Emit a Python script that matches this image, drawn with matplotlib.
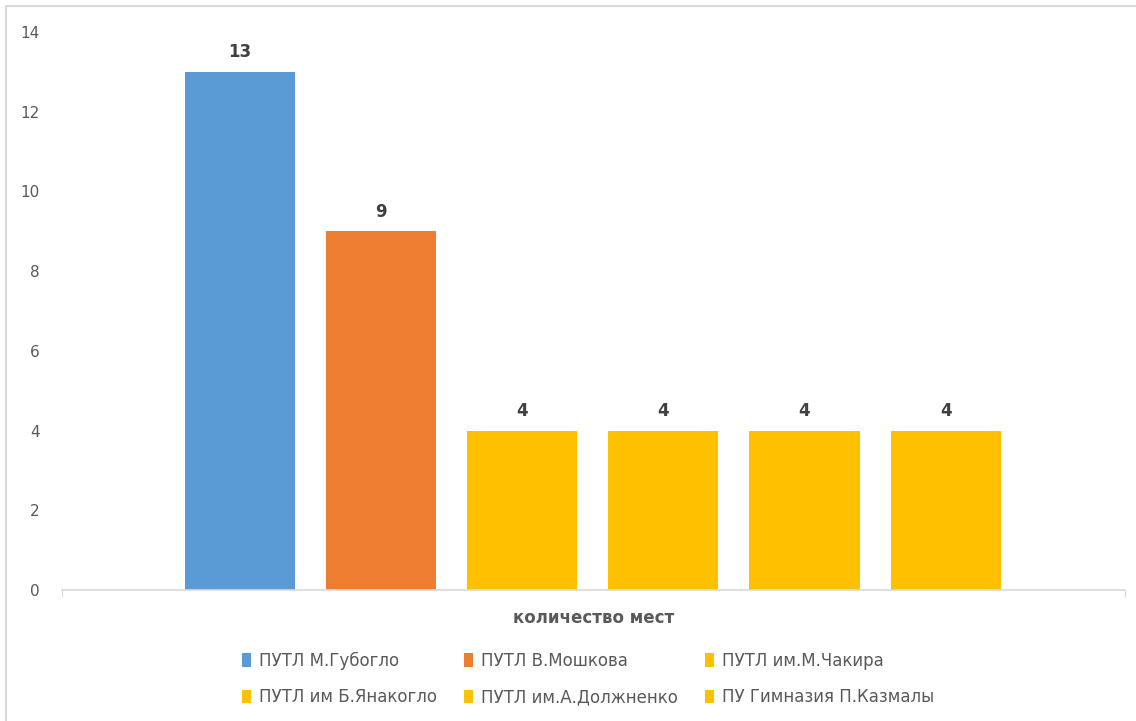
import matplotlib.pyplot as plt
from matplotlib.lines import Line2D
from matplotlib.patches import Patch

# Data
schools = ['ПУТЛ М.Губогло', 'ПУТЛ В.Мошкова', 'ПУТЛ им.М.Чакира',
           'ПУТЛ им Б.Янакогло', 'ПУТЛ им.А.Должненко', 'ПУ Гимназия П.Казмалы']
places = [13, 9, 4, 4, 4, 4]
category = 'количество мест'
y_ticks = [0, 2, 4, 6, 8, 10, 12, 14]

COLORS = ['#5B9BD5', '#ED7D31', '#FFC000', '#FFC000', '#FFC000', '#FFC000']
TEXT = '#595959'
FONT = ['Liberation Sans Narrow', 'DejaVu Sans']

plt.rcParams['font.family'] = FONT

fig = plt.figure(figsize=(11.36, 7.21), dpi=100)
ax = fig.add_axes([62 / 1136, 1 - 590 / 721, (1125 - 62) / 1136, (590 - 32) / 721])

xs = list(range(len(places)))
bars = ax.bar(xs, places, width=0.78, color=COLORS)

for b, v in zip(bars, places):
    ax.annotate(str(v), (b.get_x() + b.get_width() / 2, v),
                xytext=(0, 14), textcoords='offset points',
                ha='center', va='center', fontsize=12, weight='bold',
                color='#404040', family=['DejaVu Sans'])

xmin, xmax = -1.26, len(places) - 1 + 1.27
ax.set_xlim(xmin, xmax)
ax.set_ylim(0, 14)
ax.set_yticks(y_ticks)
ax.tick_params(axis='y', length=0, pad=16, labelsize=11, labelcolor=TEXT)
for lbl in ax.get_yticklabels():
    lbl.set_family(['DejaVu Sans'])
ax.set_xticks([xmin, xmax])
ax.set_xticklabels(['', ''])
ax.tick_params(axis='x', length=5, color='#D9D9D9', direction='out')

for s in ['top', 'right', 'left']:
    ax.spines[s].set_visible(False)
ax.spines['bottom'].set_color('#D9D9D9')
ax.spines['bottom'].set_linewidth(1.2)

ax.set_xlabel(category, fontsize=12, weight='bold', color=TEXT, labelpad=5)

# legend in row order (matplotlib fills columns first)
handles = [Patch(facecolor=c, label=s) for s, c in zip(schools, COLORS)]
order = [0, 3, 1, 4, 2, 5]
fig.legend([handles[i] for i in order], [schools[i] for i in order],
           loc='center', bbox_to_anchor=(588 / 1136, 1 - 679 / 721),
           ncol=3, frameon=False, fontsize=12, labelcolor=TEXT,
           handlelength=0.55, handleheight=0.9, handletextpad=0.5,
           columnspacing=1.6, labelspacing=1.1)

# frame of the original screenshot
fig.add_artist(Line2D([6 / 1136, 1], [1 - 6 / 721] * 2, color='#D9D9D9', lw=1.5))
fig.add_artist(Line2D([6 / 1136] * 2, [0, 1 - 6 / 721], color='#D9D9D9', lw=1.5))

fig.savefig('out.png', dpi=100)
